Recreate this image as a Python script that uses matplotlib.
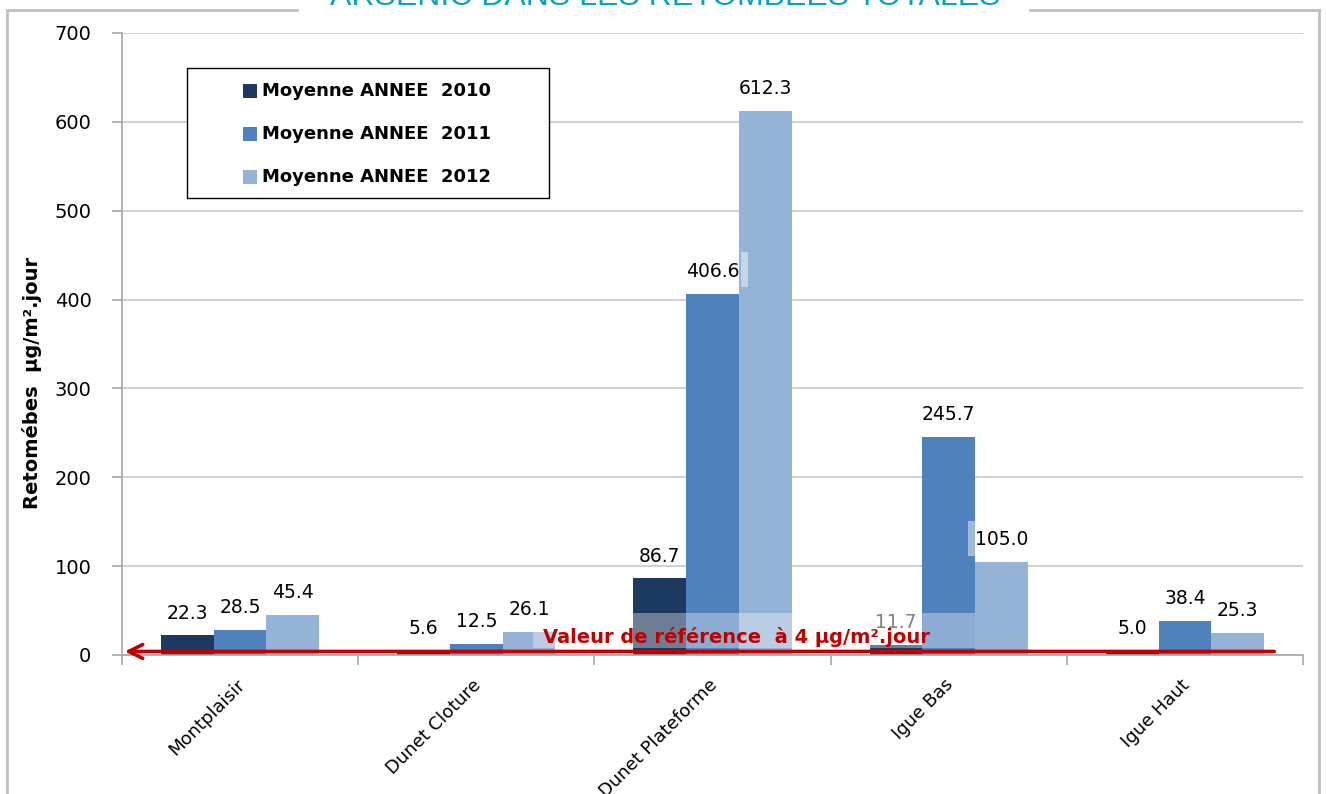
import matplotlib
matplotlib.use("Agg")
import matplotlib.pyplot as plt
import numpy as np
from matplotlib.patches import Rectangle
from matplotlib.lines import Line2D

categories = ["Montplaisir", "Dunet Cloture", "Dunet Plateforme", "Igue Bas", "Igue Haut"]
series_names = ["Moyenne ANNEE  2010", "Moyenne ANNEE  2011", "Moyenne ANNEE  2012"]
v2010 = [22.3, 5.6, 86.7, 11.7, 5.0]
v2011 = [28.5, 12.5, 406.6, 245.7, 38.4]
v2012 = [45.4, 26.1, 612.3, 105.0, 25.3]
yticks = [0, 100, 200, 300, 400, 500, 600, 700]
ref_value = 4
ref_label = "Valeur de référence  à 4 µg/m².jour"
title = "ARSENIC DANS LES RETOMBEES TOTALES"
ylabel = "Retomébes  µg/m².jour"

colors = ["#1c3a5f", "#4f81bd", "#95b3d7"]

fig = plt.figure(figsize=(13.26, 7.94), dpi=100)
W, H = 1326, 794
ax = fig.add_axes([122 / W, 1 - 655 / H, (1303 - 122) / W, (655 - 33) / H])

x = np.arange(len(categories))
bw = 0.223
for i, (vals, c, name) in enumerate(zip([v2010, v2011, v2012], colors, series_names)):
    pos = x + (i - 1) * bw
    ax.bar(pos, vals, width=bw, color=c, label=name, zorder=2)
    for p, v in zip(pos, vals):
        col = "#7f7f7f" if (i == 0 and abs(v - 11.7) < 1e-6) else "black"
        ax.text(p, v + 14, f"{v:.1f}", ha="center", va="bottom", fontsize=13.5,
                color=col, zorder=6)

ax.set_xlim(-0.5, len(categories) - 0.5)
ax.set_ylim(0, 700)
ax.set_yticks(yticks)
ax.set_yticklabels([str(t) for t in yticks], fontsize=14)
ax.yaxis.grid(True, color="#c4c4c4", linewidth=1.1, zorder=0)
ax.set_axisbelow(True)
for s in ["top", "right"]:
    ax.spines[s].set_visible(False)
ax.spines["left"].set_color("#a6a6a6")
ax.spines["bottom"].set_color("#a6a6a6")
ax.spines["left"].set_linewidth(1.2)
ax.spines["bottom"].set_linewidth(1.2)
ax.tick_params(axis="y", length=7, color="#a6a6a6", width=1.2, pad=15)

# x ticks at category boundaries (marks) and labels at centres
ax.set_xticks(np.arange(len(categories) + 1) - 0.5)
ax.set_xticklabels([""] * (len(categories) + 1))
ax.tick_params(axis="x", length=7, color="#a6a6a6", width=1.2)
for xi, cat in zip(x, categories):
    ax.annotate(cat, xy=(xi, 0), xycoords="data", xytext=(-3, -15), textcoords="offset points",
                rotation=45, ha="right", va="top", rotation_mode="anchor", fontsize=13)

# reference line with arrow
ax.annotate("", xy=(-0.5, ref_value), xytext=(4.39, ref_value),
            arrowprops=dict(arrowstyle="->", color="#c00000", lw=2.6, mutation_scale=25),
            zorder=5, annotation_clip=False)
# translucent label background
ax.add_patch(Rectangle((1.24, 7.9), 3.11 - 1.24, 47.3 - 7.9, facecolor="white", alpha=0.35,
                       edgecolor="none", zorder=4))
ax.add_patch(Rectangle((2.12, 414), 0.03, 40, facecolor="white", alpha=0.45,
                       edgecolor="none", zorder=4))
ax.add_patch(Rectangle((3.08, 111), 0.03, 40, facecolor="white", alpha=0.45,
                       edgecolor="none", zorder=4))
ax.text(2.1, 20, ref_label, ha="center", va="center", fontsize=14, fontweight="bold",
        color="#c00000", zorder=6)

ax.set_ylabel(ylabel, fontsize=14, fontweight="bold")
ax.yaxis.set_label_coords(-80 / (1303 - 122), (655 - 383) / 622)

# legend (manual, to reproduce the wide frame)
fig.add_artist(Rectangle((187 / W, 1 - 198 / H), (549 - 187) / W, (198 - 68) / H,
                         transform=fig.transFigure, facecolor="white", edgecolor="black",
                         linewidth=1.0, zorder=7))
row_y = [90.5, 134, 177]
for ry, c, name in zip(row_y, colors, series_names):
    fig.add_artist(Rectangle((243 / W, 1 - (ry + 7) / H), 14 / W, 14 / H,
                             transform=fig.transFigure, facecolor=c, edgecolor="none", zorder=8))
    fig.text(262 / W, 1 - ry / H, name, ha="left", va="center", fontsize=13,
             fontweight="bold", zorder=9)

# outer frame broken by title
fc = "#c0c0c0"
fig.add_artist(Line2D([7 / W, 7 / W], [0, 1 - 10 / H], transform=fig.transFigure, color=fc, lw=2))
fig.add_artist(Line2D([1319 / W, 1319 / W], [0, 1 - 10 / H], transform=fig.transFigure, color=fc, lw=2))
fig.add_artist(Line2D([7 / W, 297 / W], [1 - 10 / H, 1 - 10 / H], transform=fig.transFigure, color=fc, lw=2))
fig.add_artist(Line2D([1030 / W, 1319 / W], [1 - 10 / H, 1 - 10 / H], transform=fig.transFigure, color=fc, lw=2))

fig.text(665 / W, 1 - 5 / H, title, ha="center", va="baseline", fontsize=23,
         color="#0aa2c0", family="Liberation Sans")

fig.savefig("out.png", dpi=100)
